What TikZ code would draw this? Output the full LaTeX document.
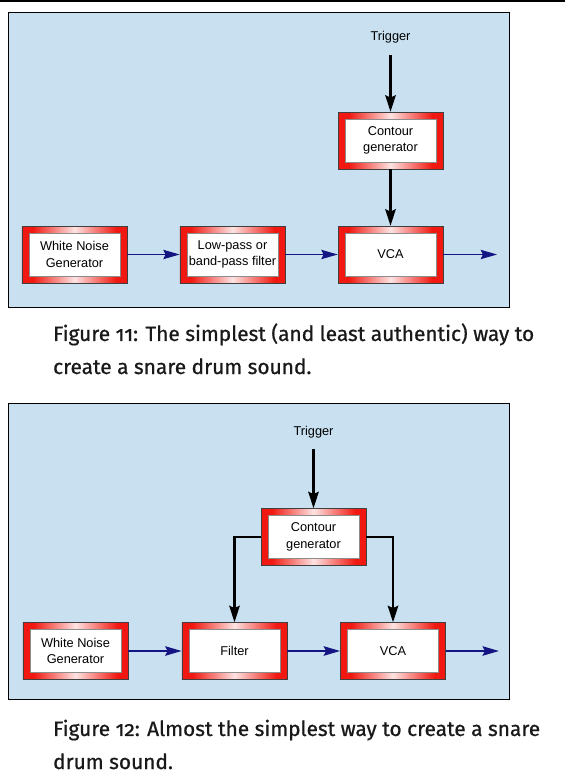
\documentclass[tikz,border=0pt]{standalone}
\usepackage{fontspec}
\setmainfont{Liberation Sans}
\newfontfamily\capfont{Fira Sans}[Numbers=OldStyle, FakeBold=0.8]
\usetikzlibrary{arrows.meta, positioning}
\definecolor{panelblue}{RGB}{200, 224, 240}
\definecolor{framered}{RGB}{240, 24, 16}
\definecolor{sigblue}{RGB}{20, 20, 130}
\pgfdeclarehorizontalshading{framefade}{100bp}{color(0bp)=(framered); color(30bp)=(framered); color(50bp)=(framered!12!white); color(70bp)=(framered); color(100bp)=(framered)}
\tikzset{
  unit/.style={draw=black!75, line width=0.6pt, shade, shading=framefade,
    minimum width=3.15cm, minimum height=1.71cm, align=center,
    font=\fontsize{10.9}{14.2}\selectfont,
    path picture={\fill[white, draw=black!45, line width=0.4pt]
      ([shift={(0.21cm,0.21cm)}]path picture bounding box.south west) rectangle
      ([shift={(-0.21cm,-0.21cm)}]path picture bounding box.north east);}},
  trig/.style={font=\fontsize{10.9}{13}\selectfont},
  sig/.style={draw=sigblue, line width=0.8pt, -{Stealth[length=14pt, width=8pt, inset=2pt]}},
  ctl/.style={draw=black, line width=2pt, -{Stealth[length=14pt, width=9pt, inset=2pt]}},
  caption/.style={anchor=base west, align=left, text=black!90,
    font=\capfont\fontsize{17.8}{28.2}\selectfont},
  panel/.style={fill=panelblue, draw=black, line width=0.8pt}
}
\begin{document}
\begin{tikzpicture}[x=0.03cm, y=-0.03cm]
  \useasboundingbox (0,0) rectangle (565,779);
  \fill[black] (0,0) rectangle (565,1.5);

  % Figure 11
  \draw[panel] (8,12) rectangle (509,307);
  \node[trig] (trig1) at (390.5,37) {Trigger};
  \node[unit] (cont1) at (390.5,140.5) {Contour\\generator};
  \node[unit] (wng1) at (74.5,254.5) {White Noise\\Generator};
  \node[unit] (filt1) at (232.5,254.5) {Low-pass or\\band-pass filter};
  \node[unit] (vca1) at (390.5,254.5) {VCA};
  \coordinate (out1) at (497,254.5);

  \draw[ctl, shorten <=0.24cm] (trig1) -- (cont1);
  \draw[ctl] (cont1) -- (vca1);
  \draw[sig] (wng1) -- (filt1);
  \draw[sig] (filt1) -- (vca1);
  \draw[sig] (vca1) -- (out1);

  \node[caption] (cap1) at (49,374) {Figure 11: The simplest (and least authentic) way to\\create a snare drum sound.};

  % Figure 12
  \draw[panel] (8,403) rectangle (509,699);
  \node[trig] (trig2) at (313.5,432) {Trigger};
  \node[unit] (cont2) at (313.5,537) {Contour\\generator};
  \node[unit] (wng2) at (75.5,651) {White Noise\\Generator};
  \node[unit] (filt2) at (234.5,651) {Filter};
  \node[unit] (vca2) at (393,651) {VCA};
  \coordinate (out2) at (499,651);

  \draw[ctl, shorten <=0.2cm] (trig2) -- (cont2);
  \draw[ctl] (cont2.west) -| (filt2.north);
  \draw[ctl] (cont2.east) -| (vca2.north);
  \draw[sig, line width=1.8pt] (wng2) -- (filt2);
  \draw[sig, line width=1.8pt] (filt2) -- (vca2);
  \draw[sig, line width=1.8pt] (vca2) -- (out2);

  \node[caption] (cap2) at (49,769) {Figure 12: Almost the simplest way to create a snare\\drum sound.};
\end{tikzpicture}
\end{document}
